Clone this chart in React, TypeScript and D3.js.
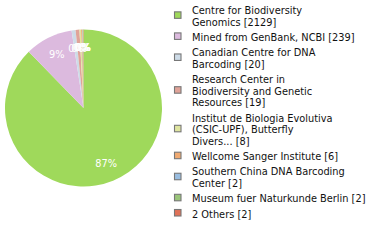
import React from "react";
import * as d3 from "d3";

const names: string[] = [
  "Centre for Biodiversity Genomics",
  "Mined from GenBank, NCBI",
  "Canadian Centre for DNA Barcoding",
  "Research Center in Biodiversity and Genetic Resources",
  "Institut de Biologia Evolutiva (CSIC-UPF), Butterfly Divers...",
  "Wellcome Sanger Institute",
  "Southern China DNA Barcoding Center",
  "Museum fuer Naturkunde Berlin",
  "2 Others",
];
const counts: number[] = [2129, 239, 20, 19, 8, 6, 2, 2, 2];
const colors: string[] = [
  "#9fd95b",
  "#dcbade",
  "#cddbe7",
  "#e0a398",
  "#dfe5a0",
  "#f0aa72",
  "#99bde0",
  "#9ac57a",
  "#e07258",
];

const W = 380;
const H = 240;
const CX = 83.5;
const CY = 108;
const R = 78.5;
const FONT = "DejaVu Sans, Verdana, sans-serif";
const FS = 9.8;
const LH = 11.7;
const GAP = 15.2;

function wrap(name: string, maxChars: number): string[] {
  const words = name.split(" ");
  const lines: string[] = [];
  let cur = "";
  for (const w of words) {
    const cand = cur ? cur + " " + w : w;
    if (cand.length > maxChars && cur) {
      lines.push(cur);
      cur = w;
    } else cur = cand;
  }
  if (cur) lines.push(cur);
  return lines;
}

export default function App() {
  const data = names.map((n, i) => ({ name: n, count: counts[i], color: colors[i] }));
  const total = d3.sum(counts);
  const pie = d3
    .pie<any>()
    .sort(null)
    .value((d: any) => d.count)
    .startAngle(0)
    .endAngle(2 * Math.PI);
  const arcs = pie(data);
  const arc = d3.arc<any>().innerRadius(0).outerRadius(R);
  const labelArc = d3.arc<any>().innerRadius(60).outerRadius(60);

  let base = 14;
  const legend = data.map((d) => {
    const lines = wrap(d.name, 30);
    lines[lines.length - 1] += ` [${d.count}]`;
    const first = base;
    const last = base + (lines.length - 1) * LH;
    base = last + GAP;
    const cy = (first + last) / 2 - 3.5 - 1.5;
    return { ...d, lines, first, cy };
  });

  return (
    <div>
      <style>{`body{margin:0}`}</style>
      <svg width={W} height={H} style={{ display: "block", background: "#fff" }}>
        <g transform={`translate(${CX},${CY})`}>
          {arcs.map((a, i) => (
            <path key={i} d={arc(a) as string} fill={a.data.color} />
          ))}
          {arcs.map((a, i) => {
            const [x, y] = labelArc.centroid(a);
            return (
              <text
                key={"l" + i}
                x={x}
                y={y}
                dy="0.35em"
                textAnchor="middle"
                fill="#fff"
                fontFamily={FONT}
                fontSize={FS}
              >
                {Math.floor((a.data.count / total) * 100) + "%"}
              </text>
            );
          })}
        </g>
        {legend.map((d, i) => (
          <g key={"g" + i}>
            <rect
              x={174.5}
              y={d.cy - 3}
              width={6.5}
              height={6.5}
              fill={d.color}
              stroke="#777"
              strokeWidth={1.1}
            />
            <text fontFamily={FONT} fontSize={FS} fill="#111">
              {d.lines.map((ln, j) => (
                <tspan key={j} x={192} y={d.first + j * LH}>
                  {ln}
                </tspan>
              ))}
            </text>
          </g>
        ))}
      </svg>
    </div>
  );
}
